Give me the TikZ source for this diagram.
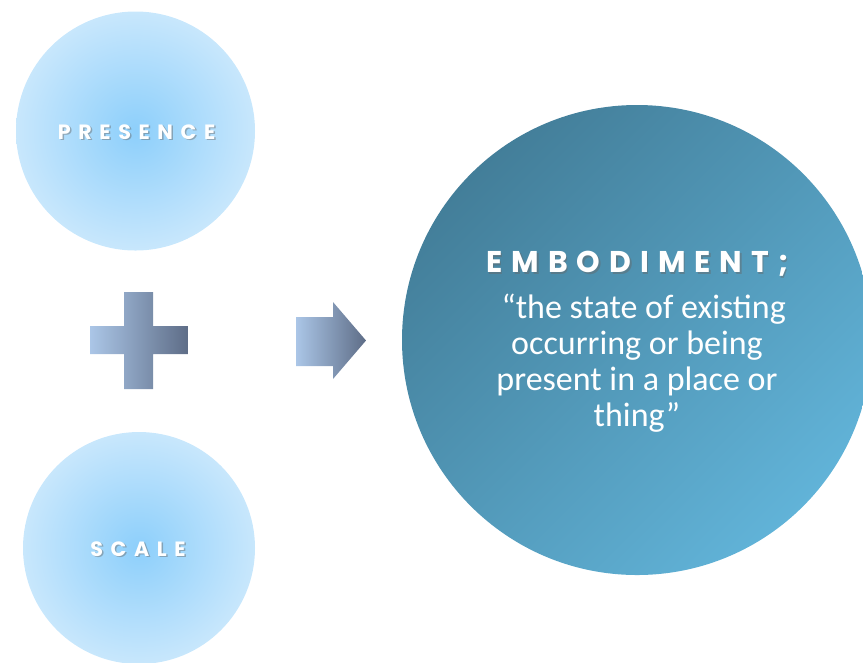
\documentclass[tikz,border=0pt]{standalone}
\usepackage{fontspec}
\setmainfont{Carlito}
\newfontfamily\capsfont[LetterSpace=37]{Poppins}
\newfontfamily\headfont[LetterSpace=30]{Poppins}
\definecolor{bubblein}{HTML}{8DCFFB}
\definecolor{bubbleout}{HTML}{C8E7FC}
\definecolor{embdark}{HTML}{437E99}
\definecolor{emblight}{HTML}{61B3D8}
\definecolor{signlight}{HTML}{ABC6E7}
\definecolor{signdark}{HTML}{5E6D87}
\tikzset{
  bubble/.style={circle, inner color=bubblein, outer color=bubbleout, minimum size=#1, inner sep=0pt},
  capslabel/.style={text=white, font=\capsfont\bfseries\fontsize{15.5}{18}\selectfont},
  headlabel/.style={text=white, font=\headfont\bfseries\fontsize{22.5}{26}\selectfont},
  dropshadow/.style={text=black!60, text opacity=.45},
  sign/.style={left color=signlight, right color=signdark, draw=none}
}
\begin{document}
\begin{tikzpicture}[x=0.75pt, y=-0.75pt]
  \useasboundingbox (0,0) rectangle (863,662);
  \clip (0,0) rectangle (863,662);

  \node[bubble=179.25pt] (presence) at (135.5,131) {};
  \node[bubble=174pt] (scale) at (139,548) {};
  \node[circle, minimum size=352.5pt, top color=embdark, bottom color=emblight, shading angle=45] (embodiment) at (637,340) {};

  \node[capslabel, dropshadow] at (138,133.5) {PRESENCE};
  \node[capslabel] (presencetext) at (136.5,132) {PRESENCE};
  \node[capslabel, dropshadow] at (139.5,550.5) {SCALE};
  \node[capslabel] (scaletext) at (138,549) {SCALE};

  \shade[sign] (124,292) -- (153,292) -- (153,326) -- (188,326) -- (188,354) -- (153,354) -- (153,389) -- (124,389) -- (124,354) -- (90,354) -- (90,326) -- (124,326) -- cycle;
  \shade[sign] (296,317) -- (333,317) -- (333,302) -- (366,340.5) -- (333,379) -- (333,366) -- (296,366) -- cycle;

  \node[headlabel, dropshadow, anchor=base] at (639,274) {EMBODIMENT;};
  \node[headlabel, anchor=base] (headtext) at (637.5,272) {EMBODIMENT;};
  \node[text=white, align=center, font=\fontsize{25.5}{27}\selectfont] (quote) at (637,363) {\hspace*{10pt}“the state of existing\\occurring or being\\present in a place or\\thing”};
\end{tikzpicture}
\end{document}
